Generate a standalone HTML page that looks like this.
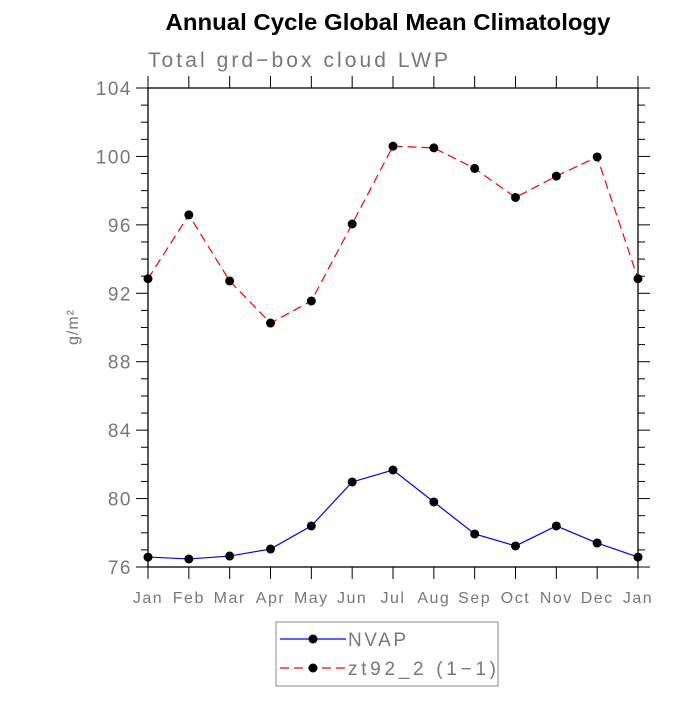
<!DOCTYPE html>
<html><head><meta charset="utf-8"><style>
body{margin:0;background:#fff;}
svg text{font-family:"Liberation Sans",sans-serif;}
</style></head><body>
<svg id="chart" width="700" height="700" xmlns="http://www.w3.org/2000/svg">
<text x="388" y="30" text-anchor="middle" font-size="23" font-weight="bold" textLength="445" lengthAdjust="spacingAndGlyphs">Annual Cycle Global Mean Climatology</text>
<text x="148" y="67" font-size="21" fill="#777" textLength="300" lengthAdjust="spacing">Total grd−box cloud LWP</text>
<text transform="translate(78,327) rotate(-90)" text-anchor="middle" font-size="16" fill="#777" letter-spacing="1">g/m²</text>
<g id="axes"></g>
<g id="series"></g>
<g>
<rect x="276" y="622" width="222" height="64" fill="none" stroke="#888" stroke-width="1"/>
<line x1="280" y1="639" x2="346" y2="639" stroke="#00f" stroke-width="1.2"/>
<circle cx="313" cy="639" r="4.5"/>
<text x="348" y="646" font-size="19" fill="#777" textLength="58" lengthAdjust="spacing">NVAP</text>
<line x1="280" y1="668" x2="346" y2="668" stroke="#f00" stroke-width="1.2" stroke-dasharray="9,5"/>
<circle cx="313" cy="668" r="4.5"/>
<text x="348" y="675" font-size="19" fill="#777" textLength="148" lengthAdjust="spacing">zt92_2 (1−1)</text>
</g>
</svg>
<script>
const months=["Jan","Feb","Mar","Apr","May","Jun","Jul","Aug","Sep","Oct","Nov","Dec","Jan"];
const nvap=[76.58,76.47,76.64,77.05,78.4,80.97,81.67,79.8,77.93,77.23,78.4,77.4,76.58];
const zt92=[92.85,96.58,92.72,90.26,91.55,96.05,100.6,100.5,99.3,97.6,98.85,99.97,92.85];
const yTicks=[76,80,84,88,92,96,100,104];
const L=148,R=638,T=88,B=567,ymin=76,ymax=104;
const NS="http://www.w3.org/2000/svg";
const xs=i=>L+(R-L)*i/(months.length-1);
const ys=v=>B-(v-ymin)/(ymax-ymin)*(B-T);
function mk(tag,attrs,parent){const e=document.createElementNS(NS,tag);for(const k in attrs)e.setAttribute(k,attrs[k]);parent.appendChild(e);return e;}
const ax=document.getElementById('axes');
const frame=mk('rect',{x:L,y:T,width:R-L,height:B-T,fill:'none',stroke:'#000','stroke-width':1.3},ax);


months.forEach((m,i)=>{
  const x=xs(i);
  mk('line',{x1:x,y1:B,x2:x,y2:B+12,stroke:'#000'},ax);
  mk('line',{x1:x,y1:T,x2:x,y2:T-12,stroke:'#000'},ax);
  const t=mk('text',{x:x,y:B+36,'text-anchor':'middle','font-size':16,fill:'#777','letter-spacing':1.5},ax);
  t.textContent=m;
  
  
});
for(let v=ymin;v<=ymax;v++){
  const y=ys(v),maj=(v%4===0);
  const len=maj?12:7;
  mk('line',{x1:L,y1:y,x2:L-len,y2:y,stroke:'#000'},ax);
  mk('line',{x1:R,y1:y,x2:R+len,y2:y,stroke:'#000'},ax);
}
yTicks.forEach(v=>{
  const t=mk('text',{x:L-16,y:ys(v)+7,'text-anchor':'end','font-size':19,fill:'#777','letter-spacing':1.5},ax);
  t.textContent=v;
  
  
});
const sg=document.getElementById('series');
function series(data,color,dash,name){
  const pts=data.map((v,i)=>xs(i)+','+ys(v)).join(' ');
  const pl=mk('polyline',{points:pts,fill:'none',stroke:color,'stroke-width':1.2,'stroke-dasharray':dash},sg);
  
  
  data.forEach((v,i)=>{
    const c=mk('circle',{cx:xs(i),cy:ys(v),r:4.5,fill:'#000'},sg);
    
    
  });
}
series(zt92,'#f00','9,5','zt92');
series(nvap,'#00f','none','nvap');
</script>
</body></html>
